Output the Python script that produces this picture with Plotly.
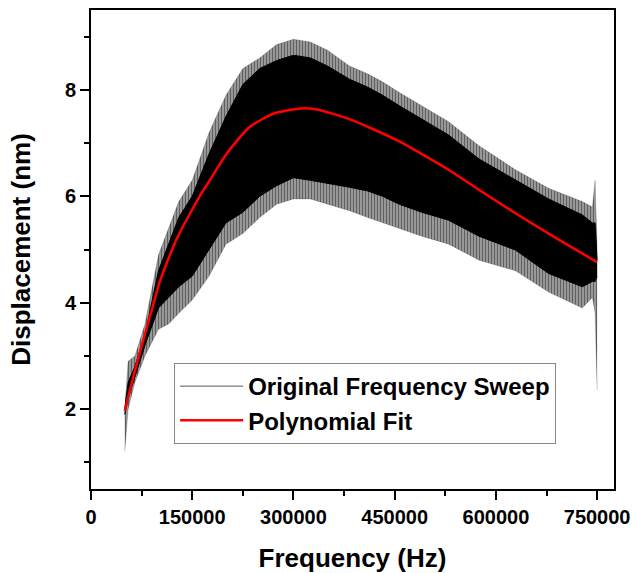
import plotly.graph_objects as go

# --- Data ---
# Original frequency sweep: envelopes of the noisy band (Hz, nm)
sweep_freq = [50000, 55000, 65000, 80000, 100000, 115000, 130000, 150000, 175000,
              200000, 225000, 250000, 275000, 300000, 325000, 350000, 383000, 410000,
              432000, 457000, 490000, 530000, 575000, 629000, 678000, 728000, 743000,
              747000, 750000]
sweep_outer_upper = [2.0, 2.9, 3.0, 3.6, 4.9, 5.4, 5.9, 6.3, 7.2, 7.9, 8.4, 8.6, 8.85,
                     8.95, 8.9, 8.75, 8.45, 8.3, 8.15, 7.95, 7.7, 7.4, 6.95, 6.5, 6.15,
                     5.9, 5.8, 6.3, 5.0]
sweep_core_upper = [2.0, 2.5, 2.8, 3.4, 4.6, 5.1, 5.6, 6.0, 6.8, 7.5, 8.1, 8.4, 8.55,
                    8.65, 8.6, 8.45, 8.2, 8.05, 7.9, 7.7, 7.45, 7.15, 6.7, 6.3, 5.95,
                    5.65, 5.5, 5.5, 4.8]
sweep_core_lower = [1.9, 2.2, 2.6, 3.2, 3.9, 4.1, 4.3, 4.5, 5.0, 5.5, 5.7, 6.0, 6.2,
                    6.35, 6.3, 6.25, 6.17, 6.1, 6.0, 5.85, 5.7, 5.55, 5.25, 4.99, 4.55,
                    4.3, 4.4, 4.4, 4.5]
sweep_outer_lower = [1.2, 2.0, 2.5, 3.0, 3.5, 3.6, 3.8, 4.05, 4.5, 5.1, 5.3, 5.6, 5.85,
                     5.95, 5.95, 5.85, 5.73, 5.6, 5.5, 5.4, 5.25, 5.1, 4.8, 4.6, 4.2,
                     3.9, 4.1, 3.8, 2.36]

# Polynomial fit
fit_freq = [50000, 62500, 77500, 92000, 102000, 127000, 161000, 176000, 201000, 235000,
            270000, 310000, 335000, 383000, 420000, 457000, 531000, 580000, 629000,
            690000, 750000]
fit_disp = [1.97, 2.6, 3.3, 3.95, 4.4, 5.2, 6.0, 6.3, 6.8, 7.3, 7.55, 7.65, 7.63,
            7.45, 7.25, 7.03, 6.49, 6.08, 5.68, 5.21, 4.76]

x_ticks = [0, 150000, 300000, 450000, 600000, 750000]
y_ticks = [2, 4, 6, 8]

FONT = "Liberation Sans, Arial, sans-serif"

fig = go.Figure()

# outer (sparse spikes) band, vertical-line texture
fig.add_trace(go.Scatter(x=sweep_freq, y=sweep_outer_lower, mode="lines",
                         line=dict(color="rgba(0,0,0,0.35)", width=0.5),
                         showlegend=False, hoverinfo="skip"))
fig.add_trace(go.Scatter(x=sweep_freq, y=sweep_outer_upper, mode="lines",
                         line=dict(color="rgba(0,0,0,0.35)", width=0.5),
                         fill="tonexty", fillcolor="rgba(0,0,0,0.3)",
                         fillpattern=dict(shape="|", fgcolor="black",
                                          bgcolor="rgba(110,110,110,0.45)",
                                          size=3, solidity=0.6),
                         showlegend=False, hoverinfo="skip"))
# dense core band
fig.add_trace(go.Scatter(x=sweep_freq, y=sweep_core_lower, mode="lines",
                         line=dict(color="black", width=1),
                         showlegend=False, hoverinfo="skip"))
fig.add_trace(go.Scatter(x=sweep_freq, y=sweep_core_upper, mode="lines",
                         line=dict(color="black", width=1),
                         fill="tonexty", fillcolor="black",
                         showlegend=False, hoverinfo="skip"))
# legend entry for sweep
fig.add_trace(go.Scatter(x=[None], y=[None], mode="lines",
                         line=dict(color="#555555", width=1),
                         name="Original Frequency Sweep"))
# fit
fig.add_trace(go.Scatter(x=fit_freq, y=fit_disp, mode="lines",
                         line=dict(color="#ff0000", width=2.5, shape="spline", smoothing=0.6),
                         name="Polynomial Fit"))

axis_common = dict(showline=True, linecolor="black", linewidth=2, mirror=True,
                   ticks="outside", ticklen=9, tickwidth=1.5, tickcolor="black",
                   showgrid=False, zeroline=False, automargin=False,
                   tickfont=dict(family=FONT, size=20, color="black", weight="bold"))

fig.update_xaxes(range=[0, 775000], tickvals=x_ticks,
                 ticktext=[str(v) for v in x_ticks],
                 minor=dict(ticks="outside", ticklen=5, tickwidth=1.5, tickcolor="black",
                            dtick=75000, tick0=0, showgrid=False),
                 title=dict(text="Frequency (Hz)", standoff=22,
                            font=dict(family=FONT, size=26, color="black", weight="bold")),
                 **axis_common)
fig.update_yaxes(range=[0.5, 9.5], tickvals=y_ticks,
                 minor=dict(ticks="outside", ticklen=5, tickwidth=1.5, tickcolor="black",
                            dtick=1, tick0=1, showgrid=False),
                 title=dict(text="Displacement (nm)", standoff=27,
                            font=dict(family=FONT, size=26, color="black", weight="bold")),
                 **axis_common)

fig.update_layout(
    width=636, height=573,
    margin=dict(l=91, r=22, t=10, b=84),
    paper_bgcolor="white", plot_bgcolor="white",
    legend=dict(x=0.159, y=0.263, xanchor="left", yanchor="top",
                traceorder="normal",
                bgcolor="white", bordercolor="#888888", borderwidth=1,
                itemwidth=63, tracegroupgap=0,
                font=dict(family=FONT, size=24, color="black", weight="bold")),
)

fig.write_html("out.html")
